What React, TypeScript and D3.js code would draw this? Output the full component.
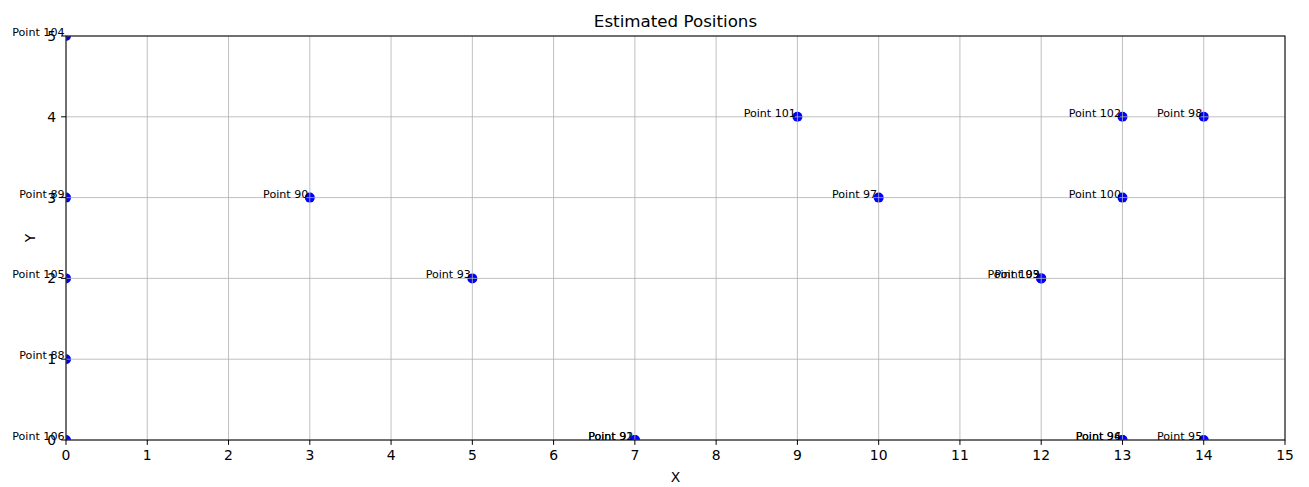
import React from "react";
import * as d3 from "d3";

// Estimated point positions
const pointLabels = [
  "Point 88", "Point 89", "Point 90", "Point 91", "Point 92", "Point 93",
  "Point 94", "Point 95", "Point 96", "Point 97", "Point 98", "Point 99",
  "Point 100", "Point 101", "Point 102", "Point 103", "Point 104", "Point 105", "Point 106",
];
const pointX = [0, 0, 3, 7, 7, 5, 13, 14, 13, 10, 14, 12, 13, 9, 13, 12, 0, 0, 0];
const pointY = [1, 3, 3, 0, 0, 2, 0, 0, 0, 3, 4, 2, 3, 4, 4, 2, 5, 2, 0];

const xTicks = d3.range(0, 16);
const yTicks = d3.range(0, 6);

const W = 1309;
const H = 487;
const margin = { left: 66, right: 24, top: 36, bottom: 47 };
const FONT = "'DejaVu Sans', sans-serif";

export default function App() {
  const x = d3.scaleLinear().domain([0, 15]).range([margin.left, W - margin.right]);
  const y = d3.scaleLinear().domain([0, 5]).range([H - margin.bottom, margin.top]);
  const [x0, x1] = x.range();
  const [yb, yt] = y.range();
  const tickLen = 4.9;

  return (
    <svg
      width={W}
      height={H}
      style={{ position: "absolute", left: 0, top: 0, background: "#fff" }}
      fontFamily={FONT}
    >
      <defs>
        <clipPath id="plot-area">
          <rect x={x0} y={yt} width={x1 - x0} height={yb - yt} />
        </clipPath>
      </defs>

      <text x={(x0 + x1) / 2} y={26.5} textAnchor="middle" fontSize={16.7} fill="#000">
        Estimated Positions
      </text>

      {/* markers */}
      <g clipPath="url(#plot-area)">
        {pointX.map((px, i) => (
          <circle key={i} cx={x(px)} cy={y(pointY[i])} r={5} fill="blue" />
        ))}
      </g>

      {/* grid */}
      <g stroke="#b0b0b0" strokeWidth={0.8}>
        {xTicks.map((t) => (
          <line key={"gx" + t} x1={x(t)} x2={x(t)} y1={yt} y2={yb} />
        ))}
        {yTicks.map((t) => (
          <line key={"gy" + t} x1={x0} x2={x1} y1={y(t)} y2={y(t)} />
        ))}
      </g>

      {/* axes frame */}
      <rect x={x0} y={yt} width={x1 - x0} height={yb - yt} fill="none" stroke="#000" strokeWidth={1} />

      {/* x ticks */}
      <g>
        {xTicks.map((t) => (
          <g key={"xt" + t}>
            <line x1={x(t)} x2={x(t)} y1={yb} y2={yb + tickLen} stroke="#000" strokeWidth={1} />
            <text x={x(t)} y={yb + 20} textAnchor="middle" fontSize={13.9} fill="#000">
              {t}
            </text>
          </g>
        ))}
      </g>

      {/* y ticks */}
      <g>
        {yTicks.map((t) => (
          <g key={"yt" + t}>
            <line x1={x0 - tickLen} x2={x0} y1={y(t)} y2={y(t)} stroke="#000" strokeWidth={1} />
            <text x={x0 - 9.8} y={y(t) + 5} textAnchor="end" fontSize={13.9} fill="#000">
              {t}
            </text>
          </g>
        ))}
      </g>

      <text x={(x0 + x1) / 2} y={482} textAnchor="middle" fontSize={13.9} fill="#000">
        X
      </text>
      <text
        transform={`translate(35,${(yt + yb) / 2}) rotate(-90)`}
        textAnchor="middle"
        fontSize={13.9}
        fill="#000"
      >
        Y
      </text>

      {/* point labels */}
      <g>
        {pointLabels.map((lab, i) => (
          <text
            key={lab}
            x={x(pointX[i]) - 1.5}
            y={y(pointY[i])}
            textAnchor="end"
            fontSize={11.1}
            fill="#000"
          >
            {lab}
          </text>
        ))}
      </g>
    </svg>
  );
}
